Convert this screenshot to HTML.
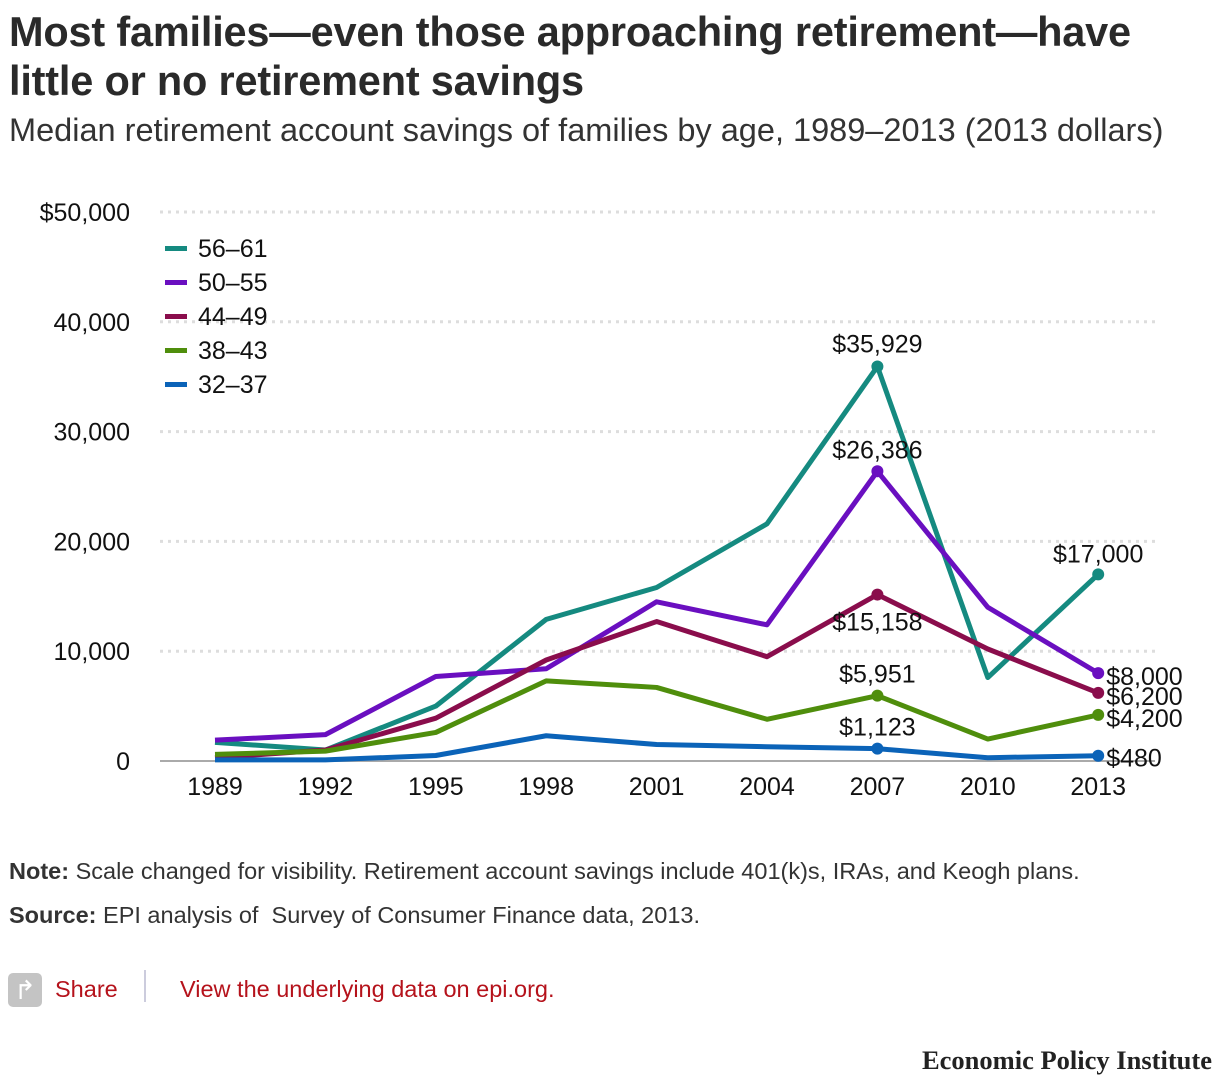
<!DOCTYPE html>
<html><head><meta charset="utf-8"><style>
body{margin:0;width:1222px;height:1084px;background:#fff;font-family:"Liberation Sans",sans-serif;color:#222;position:relative;overflow:hidden}
.t{position:absolute;left:9px;top:7px;font-size:41.5px;font-weight:bold;line-height:49px;color:#2a2a2a;letter-spacing:-0.2px}
.st{position:absolute;left:9px;top:112px;font-size:32.5px;color:#333}
.n{position:absolute;left:9px;font-size:23.5px;color:#333}
</style></head><body>
<div class="t">Most families—even those approaching retirement—have<br>little or no retirement savings</div>
<div class="st">Median retirement account savings of families by age, 1989–2013 (2013 dollars)</div>
<svg id="c" width="1222" height="1084" style="position:absolute;left:0;top:0"></svg>
<div class="n" style="top:858px"><b>Note:</b> Scale changed for visibility. Retirement account savings include 401(k)s, IRAs, and Keogh plans.</div>
<div class="n" style="top:902px"><b>Source:</b> EPI analysis of &nbsp;Survey of Consumer Finance data, 2013.</div>
<div style="position:absolute;left:8px;top:973px;width:34px;height:34px;background:#c4c4c4;border-radius:5px;color:#fff;font-size:26px;text-align:center;line-height:34px">↱</div>
<div style="position:absolute;left:55px;top:976px;font-size:23.5px;color:#b5121b">Share</div>
<div style="position:absolute;left:144px;top:970px;width:2px;height:32px;background:#ccd"></div>
<div style="position:absolute;left:180px;top:976px;font-size:23.5px;color:#b5121b">View the underlying data on epi.org.</div>
<div style="position:absolute;right:10px;top:1045px;font-family:'Liberation Serif',serif;font-weight:bold;font-size:26.5px;color:#222">Economic Policy Institute</div>
<script>
const years=[1989,1992,1995,1998,2001,2004,2007,2010,2013];
const seriesNames=["56–61","50–55","44–49","38–43","32–37"];
const s5661=[1700,1000,5000,12900,15800,21600,35929,7600,17000];
const s5055=[1900,2400,7700,8400,14500,12400,26386,14000,8000];
const s4449=[300,1000,3900,9200,12700,9500,15158,10200,6200];
const s3843=[600,900,2600,7300,6700,3800,5951,2000,4200];
const s3237=[100,100,500,2300,1500,1300,1123,300,480];
const yTicks=[0,10000,20000,30000,40000,50000];
const yTickLabels=["0","10,000","20,000","30,000","40,000","$50,000"];
const svg=document.getElementById('c');const NS='http://www.w3.org/2000/svg';
const x=i=>215+i*110.4, y=v=>761-v*0.01098;
function mk(t,a,p){const e=document.createElementNS(NS,t);for(const k in a)e.setAttribute(k,a[k]);(p||svg).appendChild(e);return e;}
yTicks.forEach((v,i)=>{
 if(v>0){const g=mk('line',{x1:160,x2:1155,y1:y(v),y2:y(v),stroke:'#ddd','stroke-width':3,'stroke-dasharray':'3 5'});
 
 }
 const t=mk('text',{x:130,y:y(v)+9,'text-anchor':'end','font-size':25,fill:'#111'});t.textContent=yTickLabels[i];
 
 
});
const ax=mk('line',{x1:160,x2:1155,y1:761,y2:761,stroke:'#aaa','stroke-width':2});


years.forEach((yr,i)=>{const t=mk('text',{x:x(i),y:795,'text-anchor':'middle','font-size':25,fill:'#111'});t.textContent=yr;
 
 });
const data=[s5661,s5055,s4449,s3843,s3237];
const colors=['#158a80','#6a0fc0','#8a0d4c','#4f8e0c','#0b63b8'];
data.forEach((d,k)=>{
 const p=mk('polyline',{points:d.map((v,i)=>x(i)+','+y(v)).join(' '),fill:'none',stroke:colors[k],'stroke-width':5,'stroke-linejoin':'round'});
 
 
 [6,8].forEach(i=>{const c=mk('circle',{cx:x(i),cy:y(d[i]),r:6,fill:colors[k]});
  
  });
 const lg=mk('rect',{x:165,y:246+k*34,width:22,height:5,fill:colors[k]});
 
 
 const lt=mk('text',{x:198,y:257+k*34,'font-size':25,fill:'#111'});lt.textContent=seriesNames[k];
 
 
});
const fmt=v=>'$'+v.toLocaleString('en-US');
const ann=[[s5661,6,-14,'middle',0],[s5055,6,-13,'middle',0],[s4449,6,36,'middle',0],[s3843,6,-13,'middle',0],[s3237,6,-13,'middle',0],[s5661,8,-12,'middle',0],[s5055,8,12,'start',8],[s4449,8,12,'start',8],[s3843,8,12,'start',8],[s3237,8,11,'start',8]];
ann.forEach(a=>{const t=mk('text',{x:x(a[1])+a[4],y:y(a[0][a[1]])+a[2],'text-anchor':a[3],'font-size':25,fill:'#111'});t.textContent=fmt(a[0][a[1]]);
 
 });
</script>
</body></html>
